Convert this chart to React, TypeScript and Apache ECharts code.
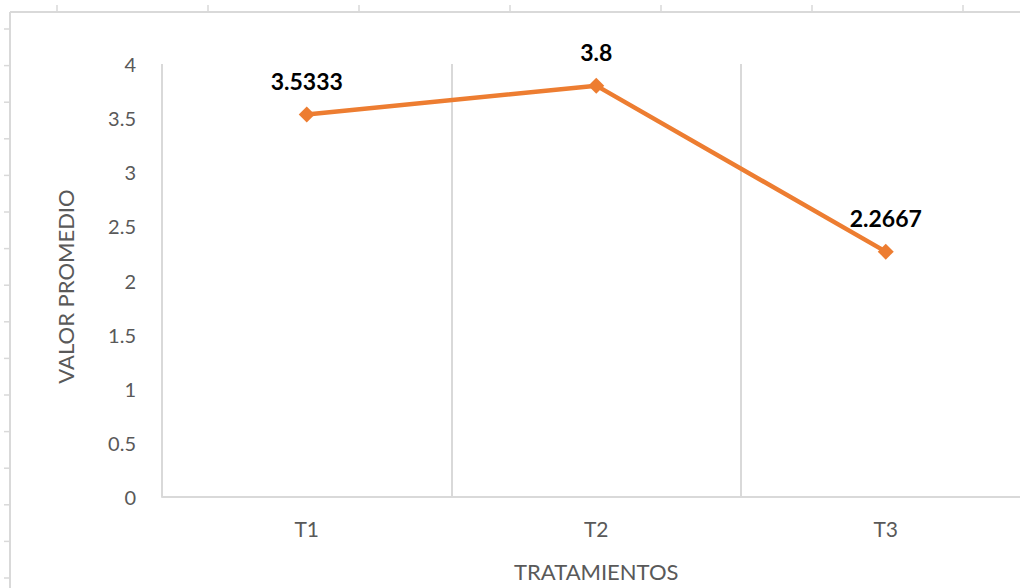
import React, { useEffect, useRef } from "react";
import * as echarts from "echarts";

const categories = ["T1", "T2", "T3"];
const values = [3.5333, 3.8, 2.2667];
const yTicks = [0, 0.5, 1, 1.5, 2, 2.5, 3, 3.5, 4];
const xAxisTitle = "TRATAMIENTOS";
const yAxisTitle = "VALOR PROMEDIO";

const FONT = "Lato, 'Noto Sans', sans-serif";
const GRAY_TEXT = "#595959";
const GRID_GRAY = "#d9d9d9";
const ORANGE = "#ED7D31";

export default function App() {
  const ref = useRef<HTMLDivElement>(null);

  useEffect(() => {
    if (!ref.current) return;
    const chart = echarts.init(ref.current, undefined, { renderer: "svg" });

    const deco: any[] = [];
    deco.push({
      type: "line",
      shape: { x1: 10, y1: 12, x2: 1020, y2: 12 },
      style: { stroke: GRID_GRAY, lineWidth: 2 },
      silent: true,
    });
    deco.push({
      type: "line",
      shape: { x1: 10, y1: 12, x2: 10, y2: 588 },
      style: { stroke: GRID_GRAY, lineWidth: 2 },
      silent: true,
    });
    for (let k = 0; k < 7; k++) {
      const x = 57 + 151 * k;
      deco.push({
        type: "line",
        shape: { x1: x, y1: 5, x2: x, y2: 12 },
        style: { stroke: GRID_GRAY, lineWidth: 1.5 },
        silent: true,
      });
    }
    for (let k = 0; k < 16; k++) {
      const y = 29 + 36.6 * k;
      deco.push({
        type: "line",
        shape: { x1: 4, y1: y, x2: 10, y2: y },
        style: { stroke: GRID_GRAY, lineWidth: 1.5 },
        silent: true,
      });
    }

    chart.setOption({
      animation: false,
      backgroundColor: "#ffffff",
      textStyle: { fontFamily: FONT },
      graphic: deco,
      grid: {
        left: 162,
        width: 868.5,
        top: 64,
        bottom: 91,
        containLabel: false,
        outerBoundsMode: "none",
      },
      xAxis: {
        type: "category",
        data: categories,
        boundaryGap: true,
        axisLine: { show: true, lineStyle: { color: GRID_GRAY, width: 2 } },
        axisTick: { show: false },
        splitLine: { show: true, lineStyle: { color: GRID_GRAY, width: 2 } },
        axisLabel: { color: GRAY_TEXT, fontSize: 21, fontFamily: FONT, margin: 21 },
        name: xAxisTitle,
        nameLocation: "middle",
        nameGap: 63,
        nameTextStyle: { color: GRAY_TEXT, fontSize: 22, fontFamily: FONT, padding: [0, 0, 0, 0] },
      },
      yAxis: {
        type: "value",
        min: yTicks[0],
        max: yTicks[yTicks.length - 1],
        interval: 0.5,
        axisLine: { show: false },
        axisTick: { show: false },
        splitLine: { show: false },
        axisLabel: {
          color: GRAY_TEXT,
          fontSize: 20,
          fontFamily: FONT,
          margin: 26,
          formatter: (v: number) => String(v),
        },
        name: yAxisTitle,
        nameLocation: "middle",
        nameGap: 86,
        nameRotate: 90,
        nameTextStyle: {
          color: GRAY_TEXT,
          fontSize: 22,
          fontFamily: FONT,
          padding: [0, 12, 0, 0],
        },
      },
      series: [
        {
          type: "line",
          data: values,
          symbol: "diamond",
          symbolSize: 16,
          lineStyle: { color: ORANGE, width: 4.5 },
          itemStyle: { color: ORANGE },
          label: {
            show: true,
            position: "top",
            distance: 14,
            color: "#000000",
            fontSize: 23,
            fontWeight: "bold",
            fontFamily: FONT,
            formatter: (p: any) => String(p.value),
          },
        },
      ],
    });

    return () => chart.dispose();
  }, []);

  return (
    <div
      ref={ref}
      style={{ position: "fixed", left: 0, top: 0, width: 1020, height: 588 }}
    />
  );
}
